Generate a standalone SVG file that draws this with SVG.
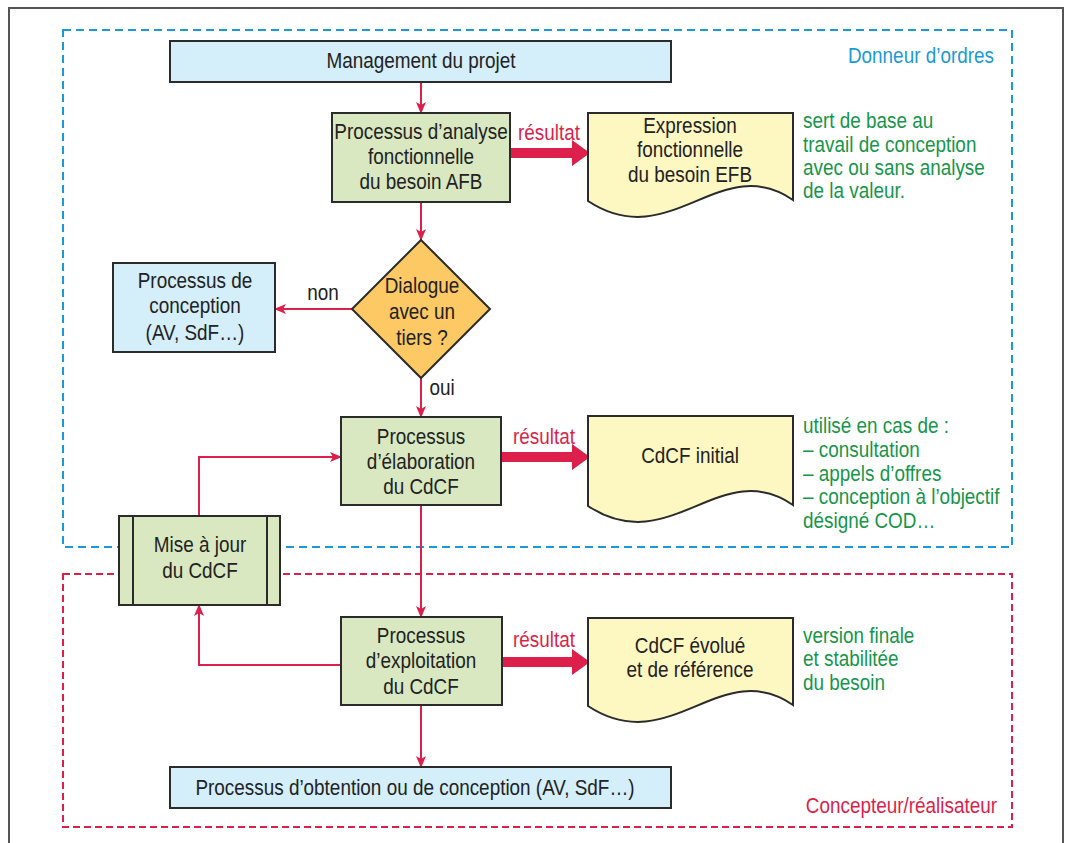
<svg xmlns="http://www.w3.org/2000/svg" width="1066" height="843" viewBox="0 0 1066 843">
  <defs>
    <style>
      text { font-family: "Liberation Sans", Arial, sans-serif; font-size: 22px; fill: #222; }
      .c { text-anchor: middle; }
      .e { text-anchor: end; }
      .green { fill: #16964a; }
      .red { fill: #dc1f4b; }
      .blue { fill: #1b9ad7; }
      .box { stroke: #2b2b2b; stroke-width: 2; }
      .proc { fill: #d9e8c1; }
      .ext { fill: #d4eefa; }
      .doc { fill: #fdf7c2; stroke: #2b2b2b; stroke-width: 2; }
      .dec { fill: #fdc964; stroke: #2b2b2b; stroke-width: 2; }
      .link { fill: none; stroke: #dc1f4b; stroke-width: 2; }
      .fat { fill: #dc1f4b; }
    </style>
    <marker id="arr" viewBox="0 0 12 10" refX="11" refY="5" markerWidth="12" markerHeight="10" markerUnits="userSpaceOnUse" orient="auto">
      <path d="M0,0 L12,5 L0,10 L3,5 Z" fill="#dc1f4b"/>
    </marker>
  </defs>

  <rect width="1066" height="843" fill="#ffffff"/>

  <!-- outer frame -->
  <path d="M9,843 V8 H1063 V843" fill="none" stroke="#555" stroke-width="2"/>

  <!-- zones (labels set in a condensed face: Liberation Sans squeezed horizontally) -->
  <g id="zone-donneur">
    <rect x="63" y="30" width="949" height="517" fill="none" stroke="#1b9ad7" stroke-width="2" stroke-dasharray="8,5"/>
    <text transform="translate(994,63) scale(0.86,1)" class="blue e">Donneur d’ordres</text>
  </g>
  <g id="zone-concepteur">
    <rect x="63" y="574" width="949" height="253" fill="none" stroke="#dc1f4b" stroke-width="2" stroke-dasharray="7,4"/>
    <text transform="translate(997,813) scale(0.86,1)" class="red e">Concepteur/réalisateur</text>
  </g>

  <!-- connectors -->
  <g id="connectors">
    <line class="link" x1="421" y1="82" x2="421" y2="113" marker-end="url(#arr)"/>
    <line class="link" x1="421" y1="202" x2="421" y2="240" marker-end="url(#arr)"/>
    <line class="link" x1="352" y1="309" x2="275" y2="309" marker-end="url(#arr)"/>
    <line class="link" x1="421" y1="378" x2="421" y2="417" marker-end="url(#arr)"/>
    <line class="link" x1="421" y1="505" x2="421" y2="617" marker-end="url(#arr)"/>
    <line class="link" x1="421" y1="705" x2="421" y2="767" marker-end="url(#arr)"/>
    <polyline class="link" points="341,665 199,665 199,605" marker-end="url(#arr)"/>
    <polyline class="link" points="199,516 199,457 341,457" marker-end="url(#arr)"/>
    <!-- result arrows -->
    <path class="fat" d="M510,148 H572 V140 L590,153 L572,166 V158 H510 Z"/>
    <path class="fat" d="M501,452 H572 V444 L590,457 L572,470 V462 H501 Z"/>
    <path class="fat" d="M502,657 H572 V649 L590,662 L572,675 V667 H502 Z"/>
    <text transform="translate(549,140) scale(0.86,1)" class="red c">résultat</text>
    <text transform="translate(544,444) scale(0.86,1)" class="red c">résultat</text>
    <text transform="translate(544,647) scale(0.86,1)" class="red c">résultat</text>
    <text transform="translate(323,300) scale(0.86,1)" class="c">non</text>
    <text transform="translate(442,395) scale(0.86,1)" class="c">oui</text>
  </g>

  <g id="management">
    <rect x="170" y="41" width="501" height="41" class="box ext"/>
    <text transform="translate(421,68) scale(0.86,1)" class="c">Management du projet</text>
  </g>

  <g id="afb">
    <rect x="332" y="113" width="178" height="89" class="box proc"/>
    <text transform="translate(421,139) scale(0.86,1)" class="c">Processus d’analyse</text>
    <text transform="translate(421,164) scale(0.86,1)" class="c">fonctionnelle</text>
    <text transform="translate(421,189) scale(0.86,1)" class="c">du besoin AFB</text>
  </g>

  <g id="efb">
    <path class="doc" d="M588,113 H793 V200 C720,150 670,255 588,201 Z"/>
    <text transform="translate(690,133) scale(0.86,1)" class="c">Expression</text>
    <text transform="translate(690,157) scale(0.86,1)" class="c">fonctionnelle</text>
    <text transform="translate(690,182) scale(0.86,1)" class="c">du besoin EFB</text>
    <text transform="translate(803,128) scale(0.86,1)" class="green">sert de base au</text>
    <text transform="translate(803,152) scale(0.86,1)" class="green">travail de conception</text>
    <text transform="translate(803,175) scale(0.86,1)" class="green">avec ou sans analyse</text>
    <text transform="translate(803,198) scale(0.86,1)" class="green">de la valeur.</text>
  </g>

  <g id="dialogue">
    <polygon class="dec" points="421,240 490,309 421,378 352,309"/>
    <text transform="translate(422,293) scale(0.86,1)" class="c">Dialogue</text>
    <text transform="translate(422,319) scale(0.86,1)" class="c">avec un</text>
    <text transform="translate(422,345) scale(0.86,1)" class="c">tiers ?</text>
  </g>

  <g id="conception">
    <rect x="113" y="263" width="162" height="89" class="box ext"/>
    <text transform="translate(195,288) scale(0.86,1)" class="c">Processus de</text>
    <text transform="translate(195,313) scale(0.86,1)" class="c">conception</text>
    <text transform="translate(195,340) scale(0.86,1)" class="c">(AV, SdF…)</text>
  </g>

  <g id="elaboration">
    <rect x="341" y="417" width="160" height="88" class="box proc"/>
    <text transform="translate(421,444) scale(0.86,1)" class="c">Processus</text>
    <text transform="translate(421,469) scale(0.86,1)" class="c">d’élaboration</text>
    <text transform="translate(421,494) scale(0.86,1)" class="c">du CdCF</text>
  </g>

  <g id="cdcf-initial">
    <path class="doc" d="M588,416 H793 V505 C720,455 670,560 588,506 Z"/>
    <text transform="translate(690,463) scale(0.86,1)" class="c">CdCF initial</text>
    <text transform="translate(803,433) scale(0.86,1)" class="green">utilisé en cas de :</text>
    <text transform="translate(803,457) scale(0.86,1)" class="green">– consultation</text>
    <text transform="translate(803,481) scale(0.86,1)" class="green">– appels d’offres</text>
    <text transform="translate(803,504) scale(0.86,1)" class="green">– conception à l’objectif</text>
    <text transform="translate(803,528) scale(0.86,1)" class="green">désigné COD…</text>
  </g>

  <g id="mise-a-jour">
    <rect x="119" y="516" width="161" height="89" class="box proc"/>
    <line x1="133" y1="516" x2="133" y2="605" stroke="#2b2b2b" stroke-width="2"/>
    <line x1="267" y1="516" x2="267" y2="605" stroke="#2b2b2b" stroke-width="2"/>
    <text transform="translate(200,552) scale(0.86,1)" class="c">Mise à jour</text>
    <text transform="translate(200,578) scale(0.86,1)" class="c">du CdCF</text>
  </g>

  <g id="exploitation">
    <rect x="341" y="617" width="161" height="88" class="box proc"/>
    <text transform="translate(421,643) scale(0.86,1)" class="c">Processus</text>
    <text transform="translate(421,668) scale(0.86,1)" class="c">d’exploitation</text>
    <text transform="translate(421,694) scale(0.86,1)" class="c">du CdCF</text>
  </g>

  <g id="cdcf-evolue">
    <path class="doc" d="M588,618 H793 V705 C720,655 670,760 588,706 Z"/>
    <text transform="translate(690,653) scale(0.86,1)" class="c">CdCF évolué</text>
    <text transform="translate(690,677) scale(0.86,1)" class="c">et de référence</text>
    <text transform="translate(803,643) scale(0.86,1)" class="green">version finale</text>
    <text transform="translate(803,666) scale(0.86,1)" class="green">et stabilitée</text>
    <text transform="translate(803,690) scale(0.86,1)" class="green">du besoin</text>
  </g>

  <g id="obtention">
    <rect x="170" y="767" width="501" height="41" class="box ext"/>
    <text transform="translate(415,795) scale(0.86,1)" class="c">Processus d’obtention ou de conception (AV, SdF…)</text>
  </g>
</svg>
